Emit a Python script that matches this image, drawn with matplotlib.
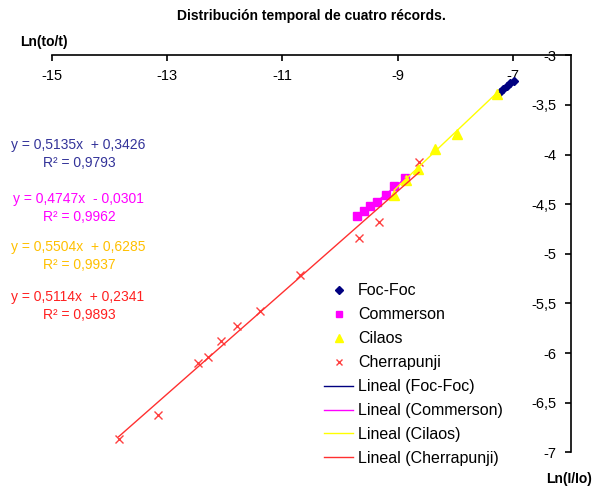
import numpy as np
import matplotlib.pyplot as plt
from matplotlib.ticker import FuncFormatter

plt.rcParams['font.family'] = ['Liberation Sans', 'DejaVu Sans']

# Ln(I/Io), Ln(to/t)
foc_x = [-7.23, -7.17, -7.11, -7.06, -6.98]
foc_y = [-3.37, -3.34, -3.31, -3.28, -3.26]

com_x = [-9.71, -9.58, -9.48, -9.35, -9.20, -9.07, -8.87]
com_y = [-4.62, -4.57, -4.52, -4.48, -4.41, -4.32, -4.24]

cil_x = [-9.06, -8.86, -8.64, -8.36, -7.97, -7.28]
cil_y = [-4.41, -4.26, -4.15, -3.94, -3.79, -3.39]

che_x = [-13.84, -13.16, -12.47, -12.29, -12.07, -11.78, -11.38, -10.69, -9.67, -9.33, -8.63]
che_y = [-6.87, -6.62, -6.10, -6.04, -5.88, -5.73, -5.58, -5.21, -4.84, -4.68, -4.07]

names = ['Foc-Foc', 'Commerson', 'Cilaos', 'Cherrapunji']
slopes = [0.5135, 0.4747, 0.5504, 0.5114]
intercepts = [0.3426, -0.0301, 0.6285, 0.2341]
r2 = ['0,9793', '0,9962', '0,9937', '0,9893']
eq_texts = ['y = 0,5135x  + 0,3426', 'y = 0,4747x  - 0,0301',
            'y = 0,5504x  + 0,6285', 'y = 0,5114x  + 0,2341']

xs = [foc_x, com_x, cil_x, che_x]
ys = [foc_y, com_y, cil_y, che_y]
markers = ['D', 's', '^', 'x']
msizes = [4.5, 6, 7, 5.5]
colors = ['#000080', '#FF00FF', '#FFFF00', '#FF4040']
line_colors = ['#000080', '#FF00FF', '#FFFF00', '#FF3030']
eq_colors = ['#333399', '#FF00FF', '#FFC000', '#FF2020']

fig = plt.figure(figsize=(6.03, 4.87), dpi=100)
ax = fig.add_axes([0.0857, 0.0713, 0.9464 - 0.0857, 0.8864 - 0.0713])

handles_pts = []
handles_lines = []
for x, y, m, ms, c, n in zip(xs, ys, markers, msizes, colors, names):
    if m == 'x':
        h, = ax.plot(x, y, linestyle='none', marker=m, ms=ms, mew=1.0, color=c, label=n)
    else:
        h, = ax.plot(x, y, linestyle='none', marker=m, ms=ms, color=c, mec=c, label=n)
    handles_pts.append(h)

for x, a, b, c, n in zip(xs, slopes, intercepts, line_colors, names):
    xl = np.array([min(x), max(x)])
    h, = ax.plot(xl, a * xl + b, color=c, lw=1.0, label='Lineal (%s)' % n)
    handles_lines.append(h)

ax.set_xlim(-15, -6)
ax.set_ylim(-7, -3)
ax.set_xticks(np.arange(-15, -6, 2))
ax.set_yticks(np.arange(-7, -2.9, 0.5))
fmt = FuncFormatter(lambda v, p: ('%g' % v).replace('.', ','))
ax.xaxis.set_major_formatter(fmt)
ax.yaxis.set_major_formatter(fmt)

ax.spines['top'].set_visible(False)
ax.spines['right'].set_visible(False)
ax.spines['bottom'].set_position(('axes', 1.0))
ax.spines['left'].set_position(('axes', 1.0))
for s in ('bottom', 'left'):
    ax.spines[s].set_linewidth(1.2)
ax.tick_params(direction='out', length=4, width=1.2, labelsize=10.5, pad=6)

fig.text(0.517, 0.968, 'Distribución temporal de cuatro récords.',
         ha='center', va='center', fontsize=10, fontweight='bold')
fig.text(0.033, 0.914, 'Ln(to/t)', ha='left', va='center', fontsize=10, fontweight='bold')
fig.text(0.943, 0.017, 'Ln(I/Io)', ha='center', va='center', fontsize=10, fontweight='bold')

eq_y = [145, 199, 247, 297]
for t, r, c, py in zip(eq_texts, r2, eq_colors, eq_y):
    fig.text(78 / 603, 1 - py / 487, t, ha='center', va='center', fontsize=10, color=c)
    fig.text(79 / 603, 1 - (py + 18) / 487, 'R² = ' + r, ha='center', va='center',
             fontsize=10, color=c)

ax.legend(handles=handles_pts + handles_lines, loc='upper left',
          bbox_to_anchor=(318 / 603, 1 - 277 / 487), bbox_transform=fig.transFigure,
          frameon=False, fontsize=11.5, handlelength=1.8, handletextpad=0.3,
          labelspacing=0.56, borderaxespad=0, markerscale=0.8)

fig.savefig('out.png', dpi=100)
